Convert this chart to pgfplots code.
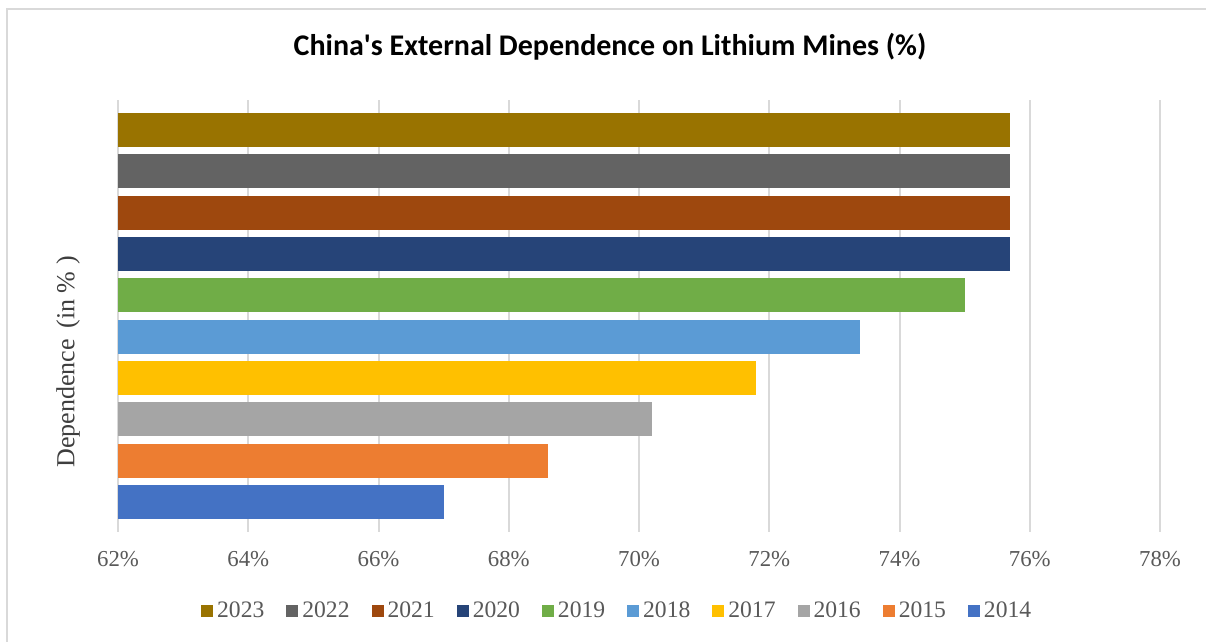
\documentclass[border=0pt]{standalone}
\usepackage{pgfplots}
\pgfplotsset{compat=1.18}
\usepackage{fontspec}
\setmainfont{Liberation Serif}
\newfontfamily\titlefont{Carlito}
\definecolor{c2023}{HTML}{997300}
\definecolor{c2022}{HTML}{636363}
\definecolor{c2021}{HTML}{9E480E}
\definecolor{c2020}{HTML}{264478}
\definecolor{c2019}{HTML}{70AD47}
\definecolor{c2018}{HTML}{5B9BD5}
\definecolor{c2017}{HTML}{FFC000}
\definecolor{c2016}{HTML}{A5A5A5}
\definecolor{c2015}{HTML}{ED7D31}
\definecolor{c2014}{HTML}{4472C4}
\definecolor{txt}{HTML}{595959}
\definecolor{gridc}{HTML}{D9D9D9}
\begin{document}
\begin{tikzpicture}[x=0.5pt,y=0.5pt]
\path[use as bounding box] (0,0) rectangle (1206,642);
\fill[white] (0,0) rectangle (1206,642);
\draw[gridc, line width=1pt] (7,-10) -- (7,633) -- (1220,633);
\node[font=\titlefont\bfseries\fontsize{15}{18}\selectfont, text=black] at (610,595) {China's External Dependence on Lithium Mines (\%)};
\node[rotate=90, font=\fontsize{13}{15}\selectfont, text=txt!70!black] at (68,280) {Dependence\, (in \% )};
\begin{axis}[
  at={(59pt,55pt)}, anchor=south west,
  scale only axis, width=521pt, height=216pt,
  xmin=62, xmax=78, ymin=-0.726, ymax=9.726,
  xtick={62,64,...,78},
  xticklabel={\pgfmathprintnumber{\tick}\%},
  /pgf/number format/assume math mode=true,
  xticklabel style={font=\fontsize{11.4}{13}\selectfont, text=txt, yshift=-6pt},
  ytick=\empty,
  xmajorgrids, grid style={gridc, line width=1pt},
  axis line style={draw=none},
  major tick length=0pt,
  xbar, bar width=0.82, bar shift=0pt,
  legend columns=10,
  legend style={at={(0.48,-0.183)}, anchor=center, draw=none, fill=none,
    font=\fontsize{11.8}{13}\selectfont, text=txt,
    /tikz/every even column/.append style={column sep=9pt}},
  legend cell align=left,
  legend image code/.code={\fill[#1] (0pt,-3pt) rectangle (6pt,3pt);},
]
\addplot[fill=c2023, draw=none] coordinates {(75.7,9)};
\addlegendentry{2023}
\addplot[fill=c2022, draw=none] coordinates {(75.7,8)};
\addlegendentry{2022}
\addplot[fill=c2021, draw=none] coordinates {(75.7,7)};
\addlegendentry{2021}
\addplot[fill=c2020, draw=none] coordinates {(75.7,6)};
\addlegendentry{2020}
\addplot[fill=c2019, draw=none] coordinates {(75.0,5)};
\addlegendentry{2019}
\addplot[fill=c2018, draw=none] coordinates {(73.4,4)};
\addlegendentry{2018}
\addplot[fill=c2017, draw=none] coordinates {(71.8,3)};
\addlegendentry{2017}
\addplot[fill=c2016, draw=none] coordinates {(70.2,2)};
\addlegendentry{2016}
\addplot[fill=c2015, draw=none] coordinates {(68.6,1)};
\addlegendentry{2015}
\addplot[fill=c2014, draw=none] coordinates {(67.0,0)};
\addlegendentry{2014}
\end{axis}
\end{tikzpicture}
\end{document}
